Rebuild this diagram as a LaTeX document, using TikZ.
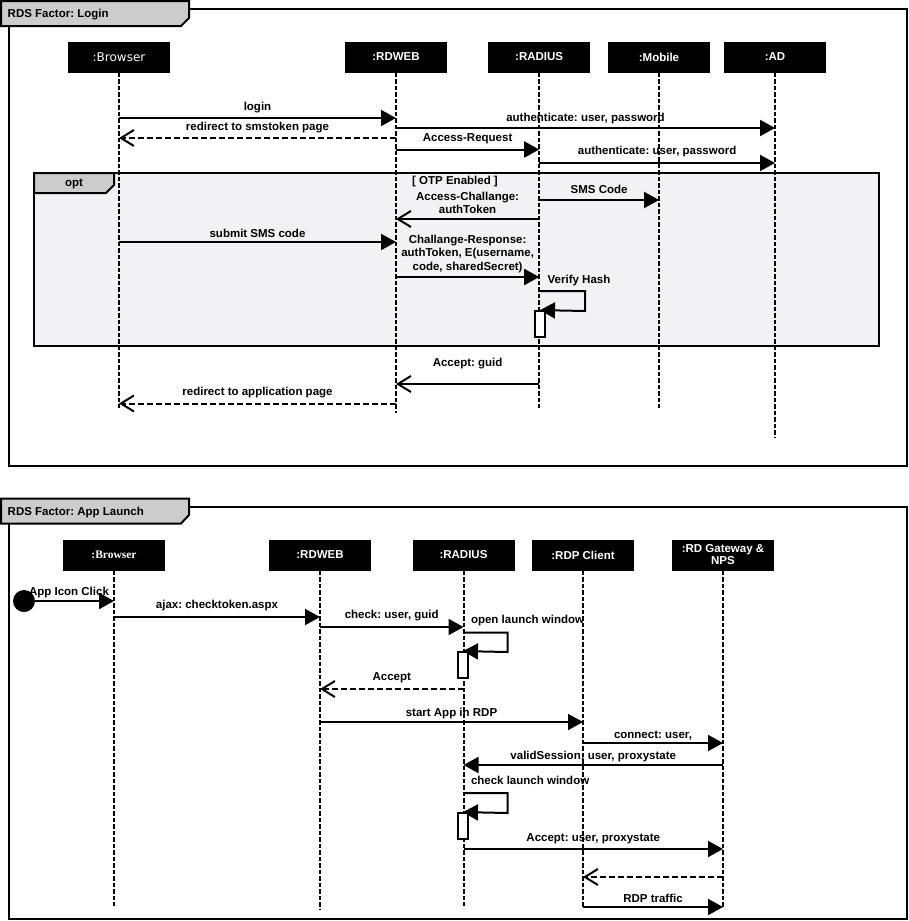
\documentclass[tikz,border=0pt]{standalone}
\usepackage{fontspec}
\setmainfont{Liberation Sans}
\newfontfamily\partfont{DejaVu Sans}
\newfontfamily\serfont{Liberation Serif}
\usetikzlibrary{arrows.meta,positioning}
\definecolor{tabgray}{HTML}{CCCCCC}
\definecolor{optgray}{HTML}{F2F2F4}
\frenchspacing

\begin{document}
\begin{tikzpicture}[
 x=1pt,y=-1pt,
 font=\fontsize{11.5}{13.5}\selectfont\bfseries,
 frame/.style={draw,line width=2pt},
 tab/.style={draw,line width=2pt,fill=tabgray,line join=miter},
 part/.style={fill=black,text=white,minimum width=102pt,minimum height=31pt,
   inner sep=0pt,align=center},
 life/.style={line width=2pt,dash pattern=on 4.5pt off 2pt},
 msg/.style={line width=2pt,-{Triangle[length=15pt,width=16pt]}},
 back/.style={line width=2pt,-{Straight Barb[length=13pt,width=16pt,line width=2pt]}},
 reply/.style={back,dash pattern=on 6pt off 3pt},
 lbl/.style={midway,anchor=base,inner sep=0pt,yshift=#1},
 lbl/.default=8pt,
 lbl2/.style={midway,anchor=south,inner sep=0pt,align=center,yshift=#1},
 act/.style={draw,fill=white,line width=1.8pt,minimum width=10pt,
   minimum height=26pt,inner sep=0pt}]
\useasboundingbox (0,0) rectangle (909,921);

% login
\draw[frame] (9,9) rectangle (907,466);
\draw[tab] (1,1) -- (189,1) -- (189,18) -- (181,26) -- (1,26) -- cycle;
\node[anchor=base west,inner sep=0pt] (title1) at (7.5,17.5) {RDS Factor: Login};

\draw[frame,fill=optgray] (34,173) rectangle (879,346);
\draw[tab] (34,173) -- (114,173) -- (114,185) -- (106,193) -- (34,193) -- cycle;
\node[anchor=base,inner sep=0pt] (opt) at (74,186) {opt};
\node[anchor=base,inner sep=0pt] (guard) at (455,184.5) {[ OTP Enabled ]};

\node[part] (brw1) at (119,57) {\partfont\mdseries\fontsize{12}{14}\selectfont :Browser};
\node[part] (rdweb1) at (396,57) {:RDWEB};
\node[part] (radius1) at (539.2,57) {:RADIUS};
\node[part] (mobile1) at (659,57) {:Mobile};
\node[part] (ad1) at (775,57) {:AD};
\draw[life] (brw1.south) -- (brw1 |- 0,408);
\draw[life] (rdweb1.south) -- (rdweb1 |- 0,413);
\draw[life] (radius1.south) -- (radius1 |- 0,408);
\draw[life] (mobile1.south) -- (mobile1 |- 0,408);
\draw[life] (ad1.south) -- (ad1 |- 0,438);

\draw[msg] (brw1 |- 0,118) -- node[lbl]{login} (rdweb1 |- 0,118);
\draw[msg] (rdweb1 |- 0,128) -- node[lbl=7pt]{authenticate: user, password} (ad1 |- 0,128);
\draw[reply] (rdweb1 |- 0,138) -- node[lbl=7.7pt]{redirect to smstoken page} (brw1 |- 0,138);
\draw[msg] (rdweb1 |- 0,149.5) -- node[lbl]{Access-Request} (radius1 |- 0,149.5);
\draw[msg] (radius1 |- 0,163) -- node[lbl=8.5pt]{authenticate: user, password} (ad1 |- 0,163);
\draw[msg] (radius1 |- 0,200) -- node[lbl=7pt]{SMS Code} (mobile1 |- 0,200);
\draw[back] (radius1 |- 0,219) -- node[lbl2=4pt]{Access-Challange:\\authToken} (rdweb1 |- 0,219);
\draw[msg] (brw1 |- 0,242) -- node[lbl=4.5pt]{submit SMS code} (rdweb1 |- 0,242);
\draw[msg] (rdweb1 |- 0,277) -- node[lbl2=3.5pt]{Challange-Response:\\authToken, E(username,\\code, sharedSecret)} (radius1 |- 0,277);
\node[act] (act1) at (540,324) {};
\draw[msg] (radius1 |- 0,291) node[anchor=base west,inner sep=0pt,xshift=7.5pt,yshift=8pt]{Verify Hash}
  -- ++(46,0) -- ++(0,20) -- (act1.north);
\draw[back] (radius1 |- 0,384) -- node[lbl=18pt]{Accept: guid} (rdweb1 |- 0,384);
\draw[reply] (rdweb1 |- 0,403.5) -- node[lbl=8.5pt]{redirect to application page} (brw1 |- 0,403.5);

% app launch
\draw[frame] (9,507) rectangle (907,918.5);
\draw[tab] (1,498.5) -- (189,498.5) -- (189,515) -- (181,523.5) -- (1,523.5) -- cycle;
\node[anchor=base west,inner sep=0pt] (title2) at (7.5,515.5) {RDS Factor: App Launch};

\node[part] (brw2) at (114,555) {\serfont :Browser};
\node[part] (rdweb2) at (320,555) {:RDWEB};
\node[part] (radius2) at (463.5,555) {:RADIUS};
\node[part] (rdpc2) at (583,555) {:RDP Client};
\node[part,font=\fontsize{11.5}{12}\selectfont\bfseries] (gw2) at (723,555) {:RD Gateway \&\\NPS};
\draw[life] (brw2.south) -- (brw2 |- 0,906);
\draw[life] (rdweb2.south) -- (rdweb2 |- 0,910);
\draw[life] (radius2.south) -- (radius2 |- 0,906);
\draw[life] (rdpc2.south) -- (rdpc2 |- 0,907);
\draw[life] (gw2.south) -- (gw2 |- 0,907);

\node[circle,fill=black,minimum size=22pt,inner sep=0pt] (start) at (24,601) {};
\draw[msg] (start.center) -- node[lbl=6pt]{App Icon Click} (brw2 |- start);
\draw[msg] (brw2 |- 0,617) -- node[lbl=8.5pt]{ajax: checktoken.aspx} (rdweb2 |- 0,617);
\draw[msg] (rdweb2 |- 0,627) -- node[lbl=8.5pt]{check: user, guid} (radius2 |- 0,627);
\node[act] (act2) at (463,665) {};
\draw[msg] (radius2 |- 0,632.5) node[anchor=base west,inner sep=0pt,xshift=6.5pt,yshift=9pt]{open launch window}
  -- ++(44,0) -- ++(0,19.5) -- (act2.north);
\draw[reply] (radius2 |- 0,689) -- node[lbl=8.5pt]{Accept} (rdweb2 |- 0,689);
\draw[msg] (rdweb2 |- 0,722) -- node[lbl=6pt]{start App in RDP} (rdpc2 |- 0,722);
\draw[msg] (rdpc2 |- 0,743) -- node[lbl=4.7pt]{connect: user,} (gw2 |- 0,743);
\draw[msg] (gw2 |- 0,765) -- node[lbl=6pt]{validSession: user, proxystate} (radius2 |- 0,765);
\node[act] (act3) at (463,826) {};
\draw[msg] (radius2 |- 0,793) node[anchor=base west,inner sep=0pt,xshift=6.5pt,yshift=8.7pt]{check launch window}
  -- ++(44,0) -- ++(0,20) -- (act3.north);
\draw[msg] (radius2 |- 0,849) -- node[lbl]{Accept: user, proxystate} (gw2 |- 0,849);
\draw[reply] (gw2 |- 0,877) -- (rdpc2 |- 0,877);
\draw[msg] (rdpc2 |- 0,907) -- node[lbl=5pt]{RDP traffic} (gw2 |- 0,907);
\end{tikzpicture}
\end{document}
